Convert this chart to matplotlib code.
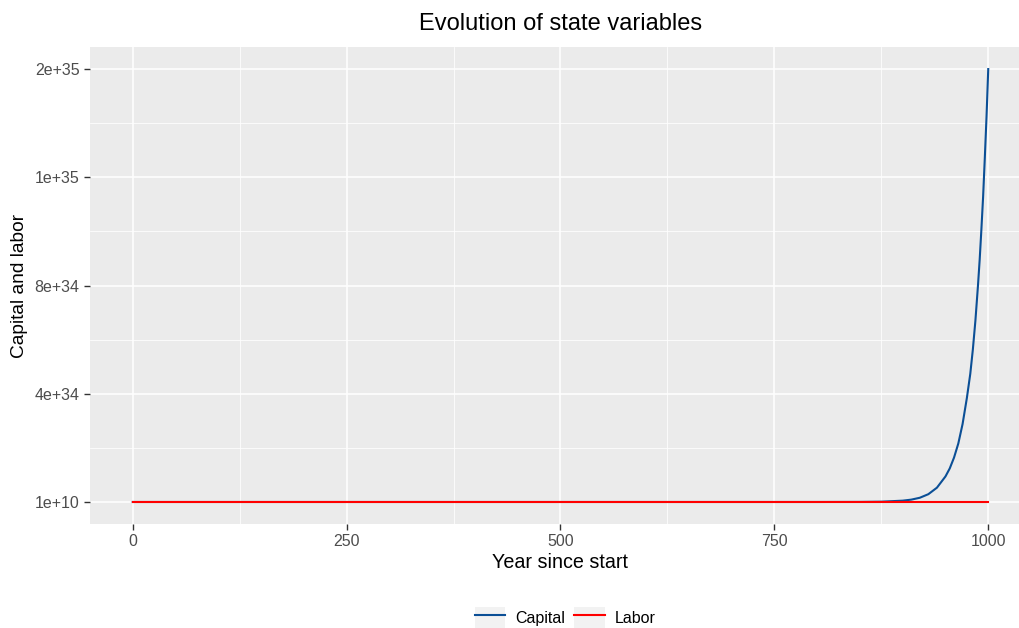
import matplotlib
matplotlib.use("Agg")
import matplotlib.pyplot as plt
from matplotlib.lines import Line2D
from matplotlib.patches import Patch
from matplotlib.legend_handler import HandlerTuple

plt.rcParams['font.family'] = ['Liberation Sans', 'DejaVu Sans']

# values
years = [0, 250, 500, 750, 800, 850, 875, 900, 910, 920, 930, 940, 950, 955,
         960, 965, 970, 975, 979, 982, 985, 988, 990, 992, 994, 996, 998, 1000]
capital = [1.0e10, 1.0e10, 1.0e10, 1.0e10, 1.8e30, 3.3e31, 1.42e32, 6.1e32,
           1.08e33, 1.95e33, 3.6e33, 6.6e33, 1.18e34, 1.55e34, 2.05e34, 2.7e34,
           3.6e34, 4.8e34, 5.92e34, 7.04e34, 8.38e34, 1.0e35, 1.12e35, 1.26e35,
           1.41e35, 1.59e35, 1.78e35, 2.0e35]
labor = [1.0e10] * len(years)

ytick_vals = [0, 0.5e35, 1.0e35, 1.5e35, 2.0e35]
ytick_labels = ['1e+10', '4e+34', '8e+34', '1e+35', '2e+35']
xtick_vals = [0, 250, 500, 750, 1000]

blue = '#0B4F96'
red = '#FF0000'

fig = plt.figure(figsize=(10.2, 6.28), dpi=100)
ax = fig.add_axes([0.0882, 0.1662, 0.9226, 0.7583])
ax.set_facecolor('#EBEBEB')

ax.plot(years, capital, color=blue, lw=1.5, zorder=3)
ax.plot(years, labor, color=red, lw=1.5, zorder=4)

ax.set_xlim(-50, 1050)
ax.set_ylim(-0.1e35, 2.1e35)
ax.set_xticks(xtick_vals)
ax.set_xticklabels([str(v) for v in xtick_vals])
ax.set_xticks([125, 375, 625, 875], minor=True)
ax.set_yticks(ytick_vals)
ax.set_yticklabels(ytick_labels)
ax.set_yticks([0.25e35, 0.75e35, 1.25e35, 1.75e35], minor=True)

ax.grid(which='major', color='white', lw=1.1)
ax.grid(which='minor', color='white', lw=0.55)
ax.set_axisbelow(True)
for s in ax.spines.values():
    s.set_visible(False)
ax.tick_params(which='major', length=4, color='#333333', labelcolor='#4D4D4D',
               labelsize=11.5, width=1)
ax.tick_params(which='minor', length=0)

ax.set_xlabel('Year since start', fontsize=14.2, labelpad=3)
ax.set_ylabel('Capital and labor', fontsize=13.8, labelpad=5)
fig.text(0.55, 0.962, 'Evolution of state variables', fontsize=17,
         ha='center', va='center')

key_bg = '#F2F2F2'
handles = [(Patch(facecolor=key_bg, edgecolor='none'), Line2D([], [], color=blue, lw=1.5)),
           (Patch(facecolor=key_bg, edgecolor='none'), Line2D([], [], color=red, lw=1.5))]
leg = fig.legend(handles, ['Capital', 'Labor'], loc='center',
                 bbox_to_anchor=(0.554, 0.016), ncol=2, frameon=False,
                 fontsize=11.5, handlelength=1.9, handleheight=1.7,
                 columnspacing=0.6, handletextpad=0.6,
                 handler_map={tuple: HandlerTuple(ndivide=1, pad=0)})

fig.savefig('out.png', dpi=100)
